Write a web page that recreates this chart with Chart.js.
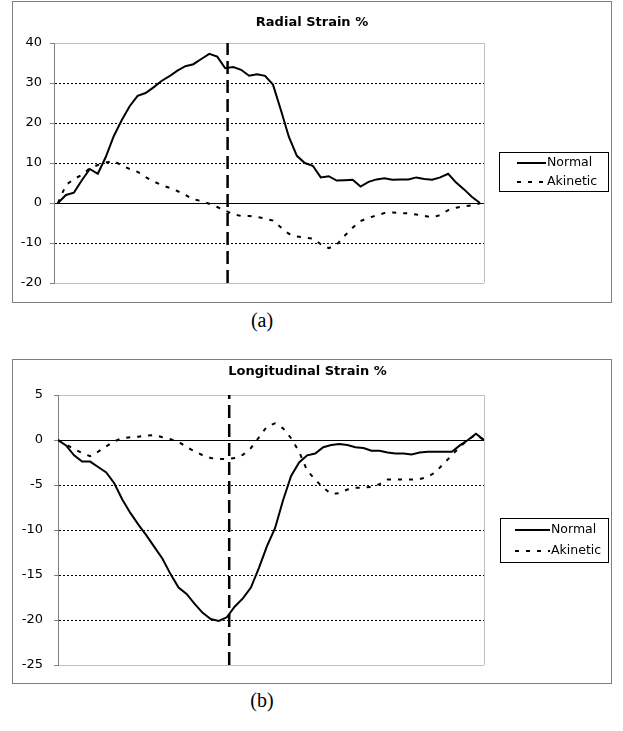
<!DOCTYPE html>
<html>
<head>
<meta charset="utf-8">
<script src="https://cdn.jsdelivr.net/npm/chart.js@4.4.0/dist/chart.umd.min.js"></script>
<style>
  body { margin: 0; background: #fff; width: 623px; height: 731px; position: relative; overflow: hidden; }
  canvas { position: absolute; }
  .caption { position: absolute; width: 100px; text-align: center; font-family: "Liberation Serif", "Times New Roman", serif; font-size: 20px; color: #000; }
</style>
</head>
<body>
<canvas id="radialChart" width="600" height="302" style="left:12px; top:1px;"></canvas>
<div class="caption" style="left:212px; top:309px;">(a)</div>
<canvas id="longChart" width="600" height="325" style="left:12px; top:359px;"></canvas>
<div class="caption" style="left:212px; top:689px;">(b)</div>
<script>
// samples, one per frame
const radialNormal = [0.0, 2.0, 2.6, 5.7, 8.5, 7.3, 11.5, 16.7, 20.7, 24.2, 26.8, 27.5, 28.9, 30.5, 31.7, 33.1, 34.2, 34.7, 36.0, 37.3,
  36.6, 33.7, 34.0, 33.3, 31.8, 32.2, 31.8, 29.6, 23.2, 16.5, 11.8, 10.0, 9.3, 6.4, 6.7, 5.6, 5.7, 5.8, 4.1, 5.3,
  5.9, 6.2, 5.8, 5.9, 5.9, 6.4, 6.0, 5.8, 6.4, 7.3, 5.1, 3.4, 1.5, 0.0];
const radialAkinetic = [0.0, 4.5, 6.0, 7.0, 8.7, 9.5, 10.1, 10.5, 9.4, 8.5, 7.8, 6.5, 5.4, 4.5, 3.8, 3.0, 2.0, 0.9, 0.5, -0.2,
  -1.0, -1.9, -2.8, -3.25, -3.25, -3.5, -3.9, -4.4, -6.1, -7.7, -8.4, -8.65, -8.9, -10.3, -11.3, -10.4, -8.2, -6.2, -4.5, -3.7,
  -3.1, -2.5, -2.4, -2.5, -2.6, -2.9, -3.2, -3.6, -3.0, -1.8, -1.2, -0.8, -0.6, -0.1];

const longNormal = [0.0, -0.6, -1.7, -2.4, -2.4, -3.0, -3.6, -4.8, -6.6, -8.1, -9.4, -10.6, -11.9, -13.2, -14.9, -16.4, -17.1, -18.2, -19.2, -19.9,
  -20.1, -19.7, -18.5, -17.6, -16.4, -14.2, -11.8, -9.8, -6.7, -4.0, -2.5, -1.7, -1.5, -0.8, -0.55, -0.45, -0.55, -0.8, -0.9, -1.2,
  -1.2, -1.4, -1.5, -1.5, -1.6, -1.4, -1.3, -1.3, -1.3, -1.3, -0.6, 0.0, 0.7, 0.0];
const longAkinetic = [0.0, -0.5, -1.0, -1.45, -1.8, -1.3, -0.7, -0.15, 0.2, 0.3, 0.37, 0.5, 0.55, 0.3, 0.1, -0.2, -0.8, -1.25, -1.7, -2.0,
  -2.1, -2.1, -2.0, -1.65, -0.9, 0.3, 1.5, 1.85, 1.3, 0.2, -1.3, -3.4, -4.4, -5.3, -6.0, -5.9, -5.5, -5.3, -5.3, -5.2,
  -4.9, -4.4, -4.4, -4.4, -4.4, -4.35, -4.1, -3.55, -2.6, -1.7, -0.75, 0.0, 0.6, 0.0];

const seriesLabels = ['Normal', 'Akinetic'];
const markerFrame = 21.3;       // vertical dashed marker
const radialRange = [-20, 40];
const radialStep = 10;
const longRange = [-25, 5];
const longStep = 5;

const FONT = 'DejaVu Sans';

const framePlugin = {
  id: 'frame',
  beforeDatasetsDraw(chart) {
    const { ctx, chartArea } = chart;
    ctx.save();
    ctx.strokeStyle = '#c0c0c0';
    ctx.lineWidth = 1;
    ctx.beginPath();
    ctx.moveTo(Math.round(chartArea.right) + 0.5, chartArea.top);
    ctx.lineTo(Math.round(chartArea.right) + 0.5, chartArea.bottom);
    ctx.stroke();
    ctx.restore();
  },
  afterDraw(chart, args, opts) {
    const { ctx, width, height } = chart;
    ctx.save();
    ctx.strokeStyle = '#808080';
    ctx.lineWidth = 1;
    ctx.strokeRect(0.5, 0.5, width - 1, height - 1);

    const lg = opts.legend;
    ctx.strokeStyle = '#000';
    ctx.strokeRect(lg.x + 0.5, lg.y + 0.5, lg.w, lg.h);
    ctx.font = '12.5px "' + FONT + '"';
    ctx.fillStyle = '#000';
    ctx.textBaseline = 'middle';
    let row = 0;
    chart.data.datasets.forEach(ds => {
      if (ds.isMarker) return;
      const y = lg.rows[row++];
      ctx.strokeStyle = ds.borderColor;
      ctx.lineWidth = ds.borderWidth;
      ctx.setLineDash(ds.borderDash || []);
      ctx.beginPath();
      ctx.moveTo(lg.lineX1, y);
      ctx.lineTo(lg.lineX2, y);
      ctx.stroke();
      ctx.setLineDash([]);
      ctx.fillText(ds.label, lg.textX, y);
    });
    ctx.restore();
  }
};

function toPoints(values) {
  return values.map((v, i) => ({ x: i, y: v }));
}

function buildChart(canvasId, cfg) {
  const [yMin, yMax] = cfg.range;
  const ctx = document.getElementById(canvasId).getContext('2d');
  return new Chart(ctx, {
    type: 'line',
    data: {
      datasets: [
        {
          label: 'marker', isMarker: true,
          data: [{ x: markerFrame, y: yMin }, { x: markerFrame, y: yMax }],
          borderColor: '#000', borderWidth: 2.5, borderDash: [13, 6]
        },
        {
          label: seriesLabels[0], data: toPoints(cfg.normal),
          borderColor: '#000', borderWidth: 2, borderDash: []
        },
        {
          label: seriesLabels[1], data: toPoints(cfg.akinetic),
          borderColor: '#000', borderWidth: 2, borderDash: [4, 7]
        }
      ]
    },
    options: {
      responsive: false,
      animation: false,
      devicePixelRatio: 1,
      elements: { point: { radius: 0 }, line: { tension: 0, fill: false } },
      layout: { padding: { left: 0, right: cfg.padRight, top: 0, bottom: cfg.padBottom } },
      plugins: {
        legend: { display: false },
        tooltip: { enabled: false },
        title: {
          display: true,
          text: cfg.title,
          color: '#000',
          font: { family: FONT, size: 13, weight: 'bold' },
          padding: cfg.titlePad
        },
        frame: { legend: cfg.legend }
      },
      scales: {
        x: {
          type: 'linear', display: false,
          min: cfg.xRange[0], max: cfg.xRange[1]
        },
        y: {
          min: yMin, max: yMax,
          ticks: { stepSize: cfg.step, color: '#000', font: { family: FONT, size: 13 }, padding: cfg.tickPad },
          grid: {
            color: c => (c.tick && (c.tick.value === yMin || c.tick.value === yMax)) ? '#c0c0c0' : '#000',
            tickColor: '#808080',
            tickLength: 4,
            lineWidth: 1
          },
          border: {
            color: '#808080',
            dash: c => (c.tick && c.tick.value !== 0 && c.tick.value !== yMin && c.tick.value !== yMax) ? [2, 2] : []
          },
          afterFit: s => { s.width = cfg.axisWidth; }
        },
        y2: {
          position: 'right',
          ticks: { display: false },
          grid: { display: false },
          border: { display: false },
          afterFit: s => { s.width = cfg.rightWidth; }
        }
      }
    },
    plugins: [framePlugin]
  });
}

buildChart('radialChart', {
  title: 'Radial Strain %',
  normal: radialNormal,
  akinetic: radialAkinetic,
  range: radialRange,
  step: radialStep,
  xRange: [-0.5, 53.5],
  titlePad: { top: 14, bottom: 12.4 },
  padRight: 0,
  padBottom: 20,
  axisWidth: 42,
  rightWidth: 128,
  tickPad: 8,
  legend: { x: 487, y: 151, w: 109, h: 39, rows: [162, 181], lineX1: 505, lineX2: 534, textX: 535 }
});

buildChart('longChart', {
  title: 'Longitudinal Strain %',
  normal: longNormal,
  akinetic: longAkinetic,
  range: longRange,
  step: longStep,
  xRange: [0, 53],
  titlePad: { top: 4.7, bottom: 15.7 },
  padRight: 9,
  padBottom: 19,
  axisWidth: 46,
  rightWidth: 119,
  tickPad: 11,
  legend: { x: 488, y: 159, w: 108, h: 44, rows: [171, 192], lineX1: 503, lineX2: 538, textX: 539 }
});
</script>
</body>
</html>
